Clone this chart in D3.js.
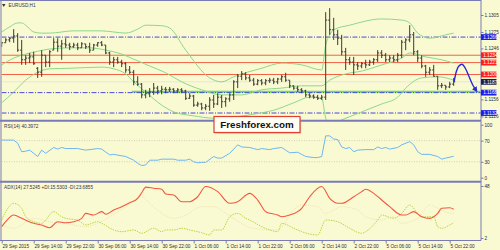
<!DOCTYPE html>
<html>
<head>
<meta charset="utf-8">
<script src="https://cdn.jsdelivr.net/npm/d3@7"></script>
<style>
  html, body { margin: 0; padding: 0; background: #fafad2; }
  svg { display: block; font-family: 'Liberation Sans', Arial, sans-serif; }
</style>
</head>
<body>
<svg id="chart" width="500" height="250"></svg>
<script>
// EURUSD H1, one entry per bar (bar 0 = 29 Sep 06:00)
const barOpen = [1.1250,1.1256,1.1261,1.1264,1.1268,1.1243,1.1226,1.1229,1.1231,1.1211,1.1204,1.1234,1.1222,1.1243,1.1257,1.1250,1.1254,1.1252,1.1249,1.1252,
  1.1247,1.1254,1.1249,1.1243,1.1252,1.1256,1.1252,1.1238,1.1222,1.1226,1.1222,1.1219,1.1208,1.1204,1.1187,1.1183,1.1164,1.1167,1.1169,1.1176,
  1.1171,1.1174,1.1173,1.1174,1.1171,1.1173,1.1171,1.1158,1.1162,1.1146,1.1148,1.1141,1.1144,1.1155,1.1148,1.1160,1.1152,1.1157,1.1164,1.1187,
  1.1197,1.1201,1.1194,1.1190,1.1183,1.1189,1.1185,1.1189,1.1190,1.1187,1.1192,1.1196,1.1190,1.1180,1.1176,1.1173,1.1171,1.1164,1.1162,1.1160,
  1.1158,1.1160,1.1296,1.1279,1.1270,1.1264,1.1240,1.1226,1.1222,1.1217,1.1215,1.1219,1.1217,1.1222,1.1226,1.1238,1.1234,1.1226,1.1229,1.1226,
  1.1234,1.1257,1.1261,1.1270,1.1240,1.1229,1.1215,1.1204,1.1208,1.1197,1.1180,1.1181,1.1178,1.1183];
const barHigh = [1.1257,1.1264,1.1266,1.1280,1.1273,1.1261,1.1234,1.1238,1.1240,1.1213,1.1243,1.1234,1.1243,1.1264,1.1264,1.1261,1.1264,1.1256,1.1256,1.1256,
  1.1257,1.1254,1.1256,1.1254,1.1257,1.1259,1.1252,1.1240,1.1231,1.1231,1.1226,1.1222,1.1215,1.1208,1.1197,1.1185,1.1173,1.1176,1.1185,1.1180,
  1.1180,1.1178,1.1178,1.1176,1.1176,1.1176,1.1173,1.1167,1.1164,1.1152,1.1150,1.1148,1.1160,1.1164,1.1167,1.1164,1.1160,1.1167,1.1190,1.1201,
  1.1206,1.1204,1.1199,1.1194,1.1192,1.1192,1.1192,1.1194,1.1194,1.1194,1.1199,1.1203,1.1190,1.1181,1.1180,1.1176,1.1173,1.1167,1.1165,1.1164,
  1.1164,1.1310,1.1317,1.1300,1.1279,1.1270,1.1247,1.1231,1.1231,1.1222,1.1222,1.1226,1.1226,1.1229,1.1243,1.1243,1.1238,1.1234,1.1234,1.1238,
  1.1261,1.1264,1.1287,1.1275,1.1243,1.1234,1.1217,1.1213,1.1217,1.1197,1.1185,1.1181,1.1187,1.1194];
const barLow = [1.1249,1.1256,1.1257,1.1256,1.1240,1.1217,1.1217,1.1220,1.1217,1.1194,1.1196,1.1213,1.1213,1.1243,1.1240,1.1226,1.1247,1.1243,1.1247,1.1243,
  1.1247,1.1245,1.1238,1.1243,1.1249,1.1250,1.1236,1.1217,1.1213,1.1219,1.1213,1.1203,1.1201,1.1181,1.1180,1.1158,1.1158,1.1160,1.1164,1.1165,
  1.1165,1.1167,1.1169,1.1167,1.1167,1.1167,1.1155,1.1157,1.1143,1.1143,1.1137,1.1137,1.1136,1.1141,1.1146,1.1141,1.1143,1.1152,1.1155,1.1176,
  1.1190,1.1190,1.1187,1.1180,1.1181,1.1181,1.1181,1.1185,1.1183,1.1183,1.1187,1.1187,1.1176,1.1173,1.1169,1.1167,1.1160,1.1158,1.1157,1.1155,
  1.1155,1.1155,1.1270,1.1261,1.1252,1.1234,1.1208,1.1217,1.1199,1.1208,1.1211,1.1211,1.1215,1.1217,1.1222,1.1229,1.1222,1.1222,1.1222,1.1222,
  1.1229,1.1243,1.1257,1.1234,1.1222,1.1211,1.1196,1.1199,1.1196,1.1173,1.1176,1.1173,1.1176,1.1180];
const barClose = [1.1256,1.1261,1.1264,1.1268,1.1243,1.1226,1.1229,1.1231,1.1219,1.1204,1.1234,1.1222,1.1240,1.1257,1.1250,1.1254,1.1252,1.1249,1.1252,1.1247,
  1.1254,1.1249,1.1243,1.1252,1.1256,1.1252,1.1238,1.1222,1.1226,1.1222,1.1219,1.1208,1.1204,1.1187,1.1183,1.1164,1.1167,1.1169,1.1176,1.1171,
  1.1174,1.1173,1.1174,1.1171,1.1173,1.1171,1.1158,1.1162,1.1146,1.1148,1.1141,1.1144,1.1155,1.1148,1.1160,1.1152,1.1157,1.1164,1.1187,1.1197,
  1.1201,1.1194,1.1190,1.1183,1.1189,1.1185,1.1189,1.1190,1.1187,1.1192,1.1196,1.1190,1.1180,1.1176,1.1173,1.1171,1.1164,1.1162,1.1160,1.1158,
  1.1160,1.1296,1.1279,1.1270,1.1264,1.1240,1.1226,1.1222,1.1217,1.1215,1.1219,1.1217,1.1222,1.1226,1.1238,1.1234,1.1226,1.1229,1.1226,1.1234,
  1.1257,1.1261,1.1270,1.1240,1.1229,1.1215,1.1204,1.1208,1.1197,1.1180,1.1181,1.1178,1.1183,1.1187];

// Bollinger bands, [bar, price]
const bbUpper = [[0,1.1275],[2,1.1284],[4,1.1291],[5,1.1291],[6,1.1287],[8,1.1275],[10,1.1273],[12,1.1273],[18,1.1277],[25,1.1277],[28,1.1275],[31,1.1273],
  [34,1.1280],[36,1.1287],[40,1.1286],[42,1.1282],[46,1.1243],[52,1.1194],[55,1.1187],[58,1.1196],[65,1.1211],[70,1.1220],[75,1.1217],[80,1.1208],
  [81,1.1252],[82,1.1270],[83,1.1279],[87,1.1287],[95,1.1298],[100,1.1296],[102,1.1291],[104,1.1273],[107,1.1264],[111,1.1270],[113,1.1273]];
const bbMiddle = [[0,1.1217],[3,1.1229],[6,1.1236],[9,1.1241],[12,1.1245],[17,1.1247],[22,1.1247],[26,1.1243],[30,1.1236],[33,1.1227],[37,1.1215],
  [41,1.1203],[45,1.1187],[50,1.1173],[55,1.1164],[60,1.1164],[65,1.1173],[70,1.1176],[75,1.1180],[80,1.1180],[82,1.1190],[86,1.1201],[90,1.1206],
  [95,1.1217],[100,1.1229],[102,1.1238],[106,1.1231],[110,1.1226],[113,1.1220]];
const bbLower = [[0,1.1150],[3,1.1169],[6,1.1190],[9,1.1204],[12,1.1210],[17,1.1211],[25,1.1213],[28,1.1210],[31,1.1201],[33,1.1187],[36,1.1169],
  [40,1.1146],[43,1.1134],[48,1.1127],[53,1.1123],[58,1.1125],[63,1.1130],[68,1.1137],[73,1.1150],[77,1.1160],[80,1.1158],[81,1.1123],[82,1.1111],
  [85,1.1120],[90,1.1134],[95,1.1148],[99,1.1160],[101,1.1176],[105,1.1194],[109,1.1196],[113,1.1190]];

const redLevels = [1.1234, 1.1221, 1.1200];
const blueLevels = [1.1266, 1.1168, 1.1132];
const bidPrice = 1.1187;
const supportLine = [[32.5, 1.11695], [119.6, 1.11695]];
const forecastPath = [[113.1,1.1187],[113.7,1.1206],[114.3,1.1215],[115.1,1.1218],[115.9,1.1211],[116.8,1.1197],[117.8,1.1181],[118.7,1.1171]];
const priceTicks = [1.1305, 1.1275, 1.1246, 1.1156, 1.1126];

// RSI(14), [bar, value]
const rsiPoints = [[0,71],[3,71],[4,65],[5,49],[6,50],[7,52],[9,40],[10,52],[11,46],[13,57],[14,54],[15,57],[16,55],[19,55],[21,52],[24,55],[25,54],
  [27,43],[28,44],[31,40],[33,33],[34,27],[35,23],[36,24],[37,33],[38,33],[39,33],[40,35],[43,35],[44,33],[46,33],[47,35],[48,30],[49,28],[50,29],
  [51,29],[53,40],[54,37],[55,37],[57,46],[59,62],[60,58],[62,57],[63,55],[64,53],[65,55],[67,53],[68,55],[70,57],[71,52],[72,47],[74,48],[75,44],
  [76,40],[78,38],[79,38],[80,40],[81,79],[82,79],[83,73],[84,72],[85,58],[86,55],[87,57],[88,49],[89,52],[91,53],[93,53],[94,58],[95,55],[96,57],
  [97,54],[99,57],[100,62],[102,68],[103,62],[104,49],[105,44],[107,44],[109,40],[110,35],[111,37],[113,40.4]];
const rsiTicks = [100, 70, 30, 0];
const rsiLevels = [70, 30];

// ADX(14), [bar, value]
const adxMain = [[0,12],[1,16.4],[3,22.3],[5,19.4],[8,15],[10,13.5],[12,11.1],[14,16.4],[16,15.5],[18,16.4],[20,19.4],[21,23.8],[23,22.3],[25,25.3],
  [26,23],[28,26.8],[30,29.7],[32,33.2],[34,37.1],[35,42],[36,47],[38,46],[40,45.1],[41,40.9],[43,40],[45,34.1],[47,34.1],[49,38.5],[51,47.5],
  [54,43],[57,32.7],[59,34.1],[62,41.5],[64,35.6],[66,25.3],[69,22.3],[70,20.8],[72,22.3],[75,28.3],[77,38.5],[80,47.5],[82,37.1],[84,32.7],
  [85,32.7],[88,38.5],[90,43],[91,45.1],[93,41.5],[95,35.6],[97,29.7],[100,22.3],[101,22.3],[103,25.3],[105,20.8],[107,19.4],[109,23.8],[110,28.3],
  [112,28.8],[113,27.5]];
const plusDI = [[0,17.9],[1,25.3],[3,32.7],[5,28.3],[6,20.8],[8,16.4],[10,15],[13,25.3],[15,20.8],[16,19.4],[19,17.9],[21,13.5],[24,16.4],[25,15],
  [28,9.1],[30,7.6],[33,9.1],[35,6.2],[38,10.6],[40,7.6],[41,9.1],[43,9.1],[45,10.6],[47,9.1],[50,6.7],[52,4.7],[53,9.1],[55,9.1],[57,20.8],
  [59,23.8],[61,19.4],[62,17.9],[65,12],[67,9.1],[69,7.6],[70,15],[73,10.6],[75,7.6],[79,4.7],[81,17.9],[84,16.4],[87,10.6],[90,6.2],[91,7.6],
  [94,17.9],[95,22.3],[98,19.4],[100,23.8],[102,31.2],[104,23.8],[105,20.8],[108,20.8],[109,12],[110,10.6],[112,13.5],[113,15.5]];
const minusDI = [[0,13.5],[3,10.6],[8,19.4],[12,16.4],[16,15],[21,12],[24,15],[27,20.8],[31,29.7],[35,38.5],[37,32.7],[40,23.8],[43,19.4],[46,22.3],
  [50,29.7],[53,29.7],[56,23.8],[60,15],[62,11],[69,9.1],[73,26.8],[75,31.2],[79,29.7],[81,23.8],[85,29.7],[89,26.8],[91,20.8],[95,17.9],[98,20.8],
  [100,15],[104,19.4],[107,31.2],[109,28.5],[111,25],[113,23.7]];
const adxTicks = [48, 2];

const dateBars = [0, 8, 16, 24, 32, 40, 48, 56, 64, 72, 80, 88, 96, 104, 112];
const dateLabels = ['29 Sep 2015', '29 Sep 14:00', '29 Sep 22:00', '30 Sep 06:00', '30 Sep 14:00', '30 Sep 22:00', '1 Oct 06:00',
  '1 Oct 14:00', '1 Oct 22:00', '2 Oct 06:00', '2 Oct 14:00', '2 Oct 22:00', '5 Oct 06:00', '5 Oct 14:00', '5 Oct 22:00'];

const chart = () => {
    const svg = d3.select('#chart');
    const left = 1.5;
    const right = 481;
    const panels = {
        main: { top: 1, bottom: 120 },
        rsi: { top: 121.5, bottom: 181 },
        adx: { top: 182.5, bottom: 240 }
    };
    const border = '#7a7ab6';
    const textColor = '#2a2a3a';
    const fontSize = '4.7px';

    const x = d3.scaleLinear().domain([0, 119]).range([1.7, 477.7]);
    const yPrice = d3.scaleLinear().domain([1.11197, 1.13279]).range([120, 2]);
    const yRsi = d3.scaleLinear().domain([0, 100]).range([177.7, 124.7]);
    const yAdx = d3.scaleLinear().domain([2, 48]).range([238, 186]);

    const defs = svg.append('defs');
    Object.entries(panels).forEach(([key, p]) => {
        defs.append('clipPath').attr('id', `clip-${key}`)
            .append('rect')
            .attr('x', left).attr('y', p.top)
            .attr('width', right - left).attr('height', p.bottom - p.top);
    });
    defs.append('marker')
        .attr('id', 'arrow')
        .attr('viewBox', '0 0 10 10')
        .attr('refX', 7).attr('refY', 5)
        .attr('markerWidth', 4).attr('markerHeight', 4)
        .attr('orient', 'auto')
        .append('path')
        .attr('d', 'M0,0 L10,5 L0,10 Z')
        .attr('fill', '#2a2ad0');

    // ---------- main panel ----------
    const main = svg.append('g').attr('clip-path', 'url(#clip-main)');

    main.append('line')
        .attr('x1', left).attr('x2', right)
        .attr('y1', yPrice(bidPrice)).attr('y2', yPrice(bidPrice))
        .attr('stroke', '#e6e6e0').attr('stroke-width', 1);

    main.selectAll('.red-level')
        .data(redLevels)
        .enter()
        .append('line')
        .attr('class', 'red-level')
        .attr('x1', left).attr('x2', right)
        .attr('y1', (d) => yPrice(d)).attr('y2', (d) => yPrice(d))
        .attr('stroke', '#f46048').attr('stroke-width', 1);

    const supportGen = d3.line().x((d) => x(d[0])).y((d) => yPrice(d[1]));
    main.append('path')
        .attr('d', supportGen(supportLine))
        .attr('stroke', '#62e062').attr('stroke-width', 2).attr('fill', 'none');

    main.selectAll('.blue-level')
        .data(blueLevels)
        .enter()
        .append('line')
        .attr('class', 'blue-level')
        .attr('x1', left).attr('x2', right)
        .attr('y1', (d) => yPrice(d)).attr('y2', (d) => yPrice(d))
        .attr('stroke', '#4848d8').attr('stroke-width', 1)
        .attr('stroke-dasharray', '5,1.5,1,1.5');

    const bandLine = d3.line()
        .x((d) => x(d[0]))
        .y((d) => yPrice(d[1]))
        .curve(d3.curveMonotoneX);

    main.selectAll('.band')
        .data([bbUpper, bbMiddle, bbLower])
        .enter()
        .append('path')
        .attr('class', 'band')
        .attr('d', bandLine)
        .attr('fill', 'none')
        .attr('stroke', '#8cd68c')
        .attr('stroke-width', 1);

    const bars = main.selectAll('.bar')
        .data(barHigh.map((h, i) => ({ i, o: barOpen[i], h, l: barLow[i], c: barClose[i] })))
        .enter()
        .append('g')
        .attr('class', 'bar')
        .attr('stroke', '#3a3a30')
        .attr('stroke-width', 1);

    bars.append('line')
        .attr('x1', (d) => x(d.i)).attr('x2', (d) => x(d.i))
        .attr('y1', (d) => yPrice(d.h)).attr('y2', (d) => yPrice(d.l));
    bars.append('line')
        .attr('x1', (d) => x(d.i) - 1.5).attr('x2', (d) => x(d.i))
        .attr('y1', (d) => yPrice(d.o)).attr('y2', (d) => yPrice(d.o));
    bars.append('line')
        .attr('x1', (d) => x(d.i)).attr('x2', (d) => x(d.i) + 1.5)
        .attr('y1', (d) => yPrice(d.c)).attr('y2', (d) => yPrice(d.c));

    const arrowLine = d3.line()
        .x((d) => x(d[0]))
        .y((d) => yPrice(d[1]))
        .curve(d3.curveCatmullRom);
    main.append('path')
        .attr('d', arrowLine(forecastPath))
        .attr('fill', 'none')
        .attr('stroke', '#2a2ad0')
        .attr('stroke-width', 1.4)
        .attr('marker-end', 'url(#arrow)');

    // ---------- RSI panel ----------
    const rsi = svg.append('g').attr('clip-path', 'url(#clip-rsi)');
    rsi.selectAll('.rsi-level')
        .data(rsiLevels)
        .enter()
        .append('line')
        .attr('x1', left).attr('x2', right)
        .attr('y1', (d) => yRsi(d)).attr('y2', (d) => yRsi(d))
        .attr('stroke', '#c4c4b4').attr('stroke-width', 0.8)
        .attr('stroke-dasharray', '1,1.5');

    const rsiLine = d3.line().x((d) => x(d[0])).y((d) => yRsi(d[1]));
    rsi.append('path')
        .attr('d', rsiLine(rsiPoints))
        .attr('fill', 'none')
        .attr('stroke', '#6cb6ee')
        .attr('stroke-width', 1);

    // ---------- ADX panel ----------
    const adx = svg.append('g').attr('clip-path', 'url(#clip-adx)');
    const adxLine = d3.line().x((d) => x(d[0])).y((d) => yAdx(d[1])).curve(d3.curveMonotoneX);

    adx.append('path')
        .attr('d', adxLine(minusDI))
        .attr('fill', 'none').attr('stroke', '#efe0b0')
        .attr('stroke-width', 1).attr('stroke-dasharray', '1,1');
    adx.append('path')
        .attr('d', adxLine(plusDI))
        .attr('fill', 'none').attr('stroke', '#b6d644')
        .attr('stroke-width', 1).attr('stroke-dasharray', '1.5,1');
    adx.append('path')
        .attr('d', adxLine(adxMain))
        .attr('fill', 'none').attr('stroke', '#f2583f')
        .attr('stroke-width', 1.1);

    // ---------- frames ----------
    const frame = svg.append('g').attr('stroke', border).attr('fill', 'none');
    frame.append('line').attr('x1', 0).attr('x2', right).attr('y1', 0.5).attr('y2', 0.5).attr('stroke-width', 1);
    frame.append('line').attr('x1', 1).attr('x2', 1).attr('y1', 0).attr('y2', 240).attr('stroke-width', 1);
    frame.append('line').attr('x1', right).attr('x2', right).attr('y1', 0).attr('y2', 240.5).attr('stroke-width', 1);
    frame.append('line').attr('x1', 0).attr('x2', right).attr('y1', 120.8).attr('y2', 120.8).attr('stroke-width', 2);
    frame.append('line').attr('x1', 0).attr('x2', right).attr('y1', 181.8).attr('y2', 181.8).attr('stroke-width', 2);
    frame.append('line').attr('x1', 0).attr('x2', right).attr('y1', 240.5).attr('y2', 240.5).attr('stroke-width', 1);

    const styleAxis = (g) => {
        g.select('.domain').remove();
        g.selectAll('line').attr('stroke', border);
        g.selectAll('text')
            .attr('fill', textColor)
            .style('font-size', fontSize)
            .style('font-family', "'Liberation Sans', Arial, sans-serif");
    };

    svg.append('g')
        .attr('transform', `translate(${right},0)`)
        .call(d3.axisRight(yPrice).tickValues(priceTicks).tickFormat(d3.format('.4f')).tickSize(2.5).tickPadding(1))
        .call(styleAxis);

    svg.append('g')
        .attr('transform', `translate(${right},0)`)
        .call(d3.axisRight(yRsi).tickValues(rsiTicks).tickFormat(d3.format('d')).tickSize(2.5).tickPadding(1))
        .call(styleAxis);

    svg.append('g')
        .attr('transform', `translate(${right},0)`)
        .call(d3.axisRight(yAdx).tickValues(adxTicks).tickFormat(d3.format('d')).tickSize(2.5).tickPadding(1))
        .call(styleAxis);

    const timeAxis = svg.append('g')
        .attr('transform', 'translate(0,240.5)')
        .call(d3.axisBottom(x).tickValues(dateBars).tickFormat((d, i) => dateLabels[i]).tickSize(3).tickPadding(1.5))
        .call(styleAxis);
    timeAxis.selectAll('text').attr('text-anchor', 'start').attr('dx', '0.3');

    // level tags on the price scale
    const tags = [
        ...blueLevels.map((v) => ({ v, fill: '#1e1ee6' })),
        ...redLevels.map((v) => ({ v, fill: '#ff1e1e' })),
        { v: bidPrice, fill: '#1e1e50' }
    ];
    const tag = svg.selectAll('.tag')
        .data(tags)
        .enter()
        .append('g')
        .attr('class', 'tag')
        .attr('transform', (d) => `translate(${right},${yPrice(d.v)})`);
    tag.append('rect')
        .attr('x', 0).attr('y', -2.9)
        .attr('width', 15.5).attr('height', 5.8)
        .attr('fill', (d) => d.fill);
    tag.append('text')
        .attr('x', 2.2).attr('dy', '0.35em')
        .attr('fill', '#ffffff')
        .style('font-size', fontSize)
        .text((d) => d3.format('.4f')(d.v));

    // panel captions
    svg.append('path').attr('d', 'M2,4 L5.5,4 L3.75,7 Z').attr('fill', '#333344');
    const caption = (txt, ty, tx) => svg.append('text')
        .attr('x', tx).attr('y', ty)
        .attr('fill', '#333344')
        .style('font-size', fontSize)
        .text(txt);
    caption('EURUSD,H1', 7.2, 8.5);
    caption('RSI(14) 40.3972', 128, 4);
    caption('ADX(14) 27.5245 +DI:15.5303 -DI:23.6855', 189, 4);

    // watermark
    const wm = svg.append('g').attr('transform', 'translate(214,116.5)');
    wm.append('rect').attr('x', 1.2).attr('y', 1.2).attr('width', 86).attr('height', 16).attr('fill', '#b8b8a0').attr('opacity', 0.6);
    wm.append('rect').attr('width', 86).attr('height', 16).attr('fill', '#fffff6').attr('stroke', '#e0402c').attr('stroke-width', 1.2);
    wm.append('text')
        .attr('x', 43).attr('y', 11.5)
        .attr('text-anchor', 'middle')
        .attr('fill', '#111111')
        .style('font-size', '9.8px')
        .style('font-weight', 'bold')
        .text('Freshforex.com');
};

chart();
</script>
</body>
</html>
